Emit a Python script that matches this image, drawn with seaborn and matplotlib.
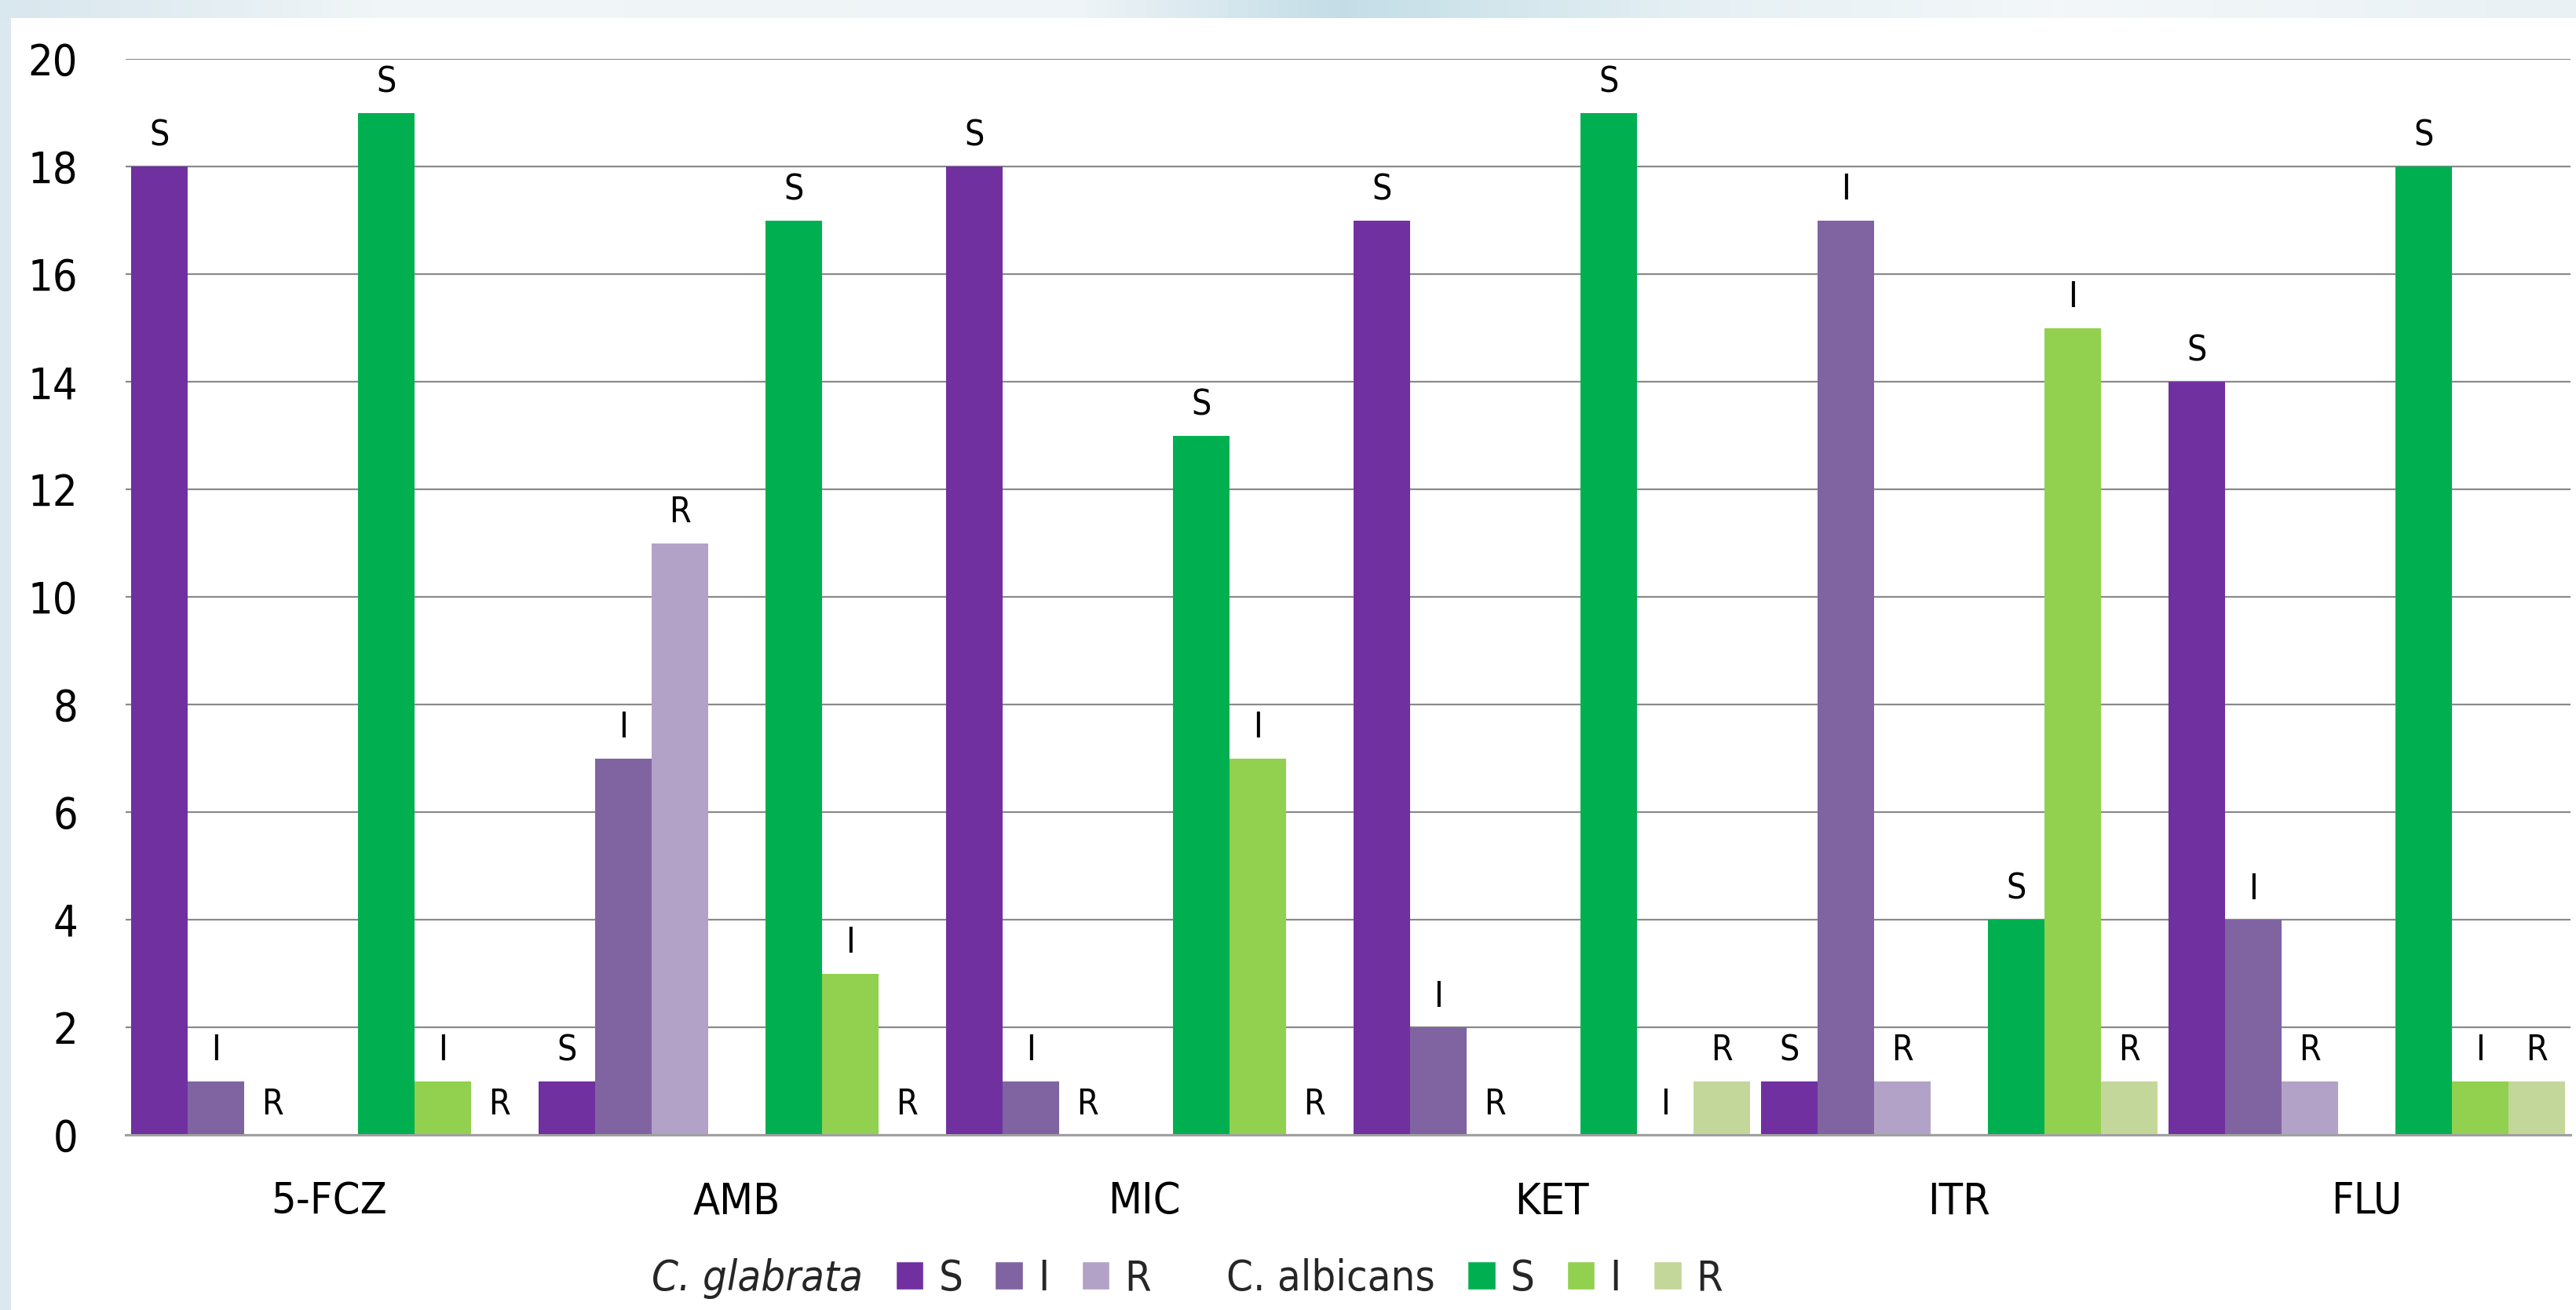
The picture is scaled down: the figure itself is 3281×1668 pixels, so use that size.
import numpy as np
import pandas as pd
import matplotlib
matplotlib.use("Agg")
import matplotlib.pyplot as plt
from matplotlib.patches import Patch, Rectangle
from matplotlib.colors import LinearSegmentedColormap
import seaborn as sns

# ---------------- data ----------------
drugs = ["5-FCZ", "AMB", "MIC", "KET", "ITR", "FLU"]
glabrata_S = [18, 1, 18, 17, 1, 14]
glabrata_I = [1, 7, 1, 2, 17, 4]
glabrata_R = [0, 11, 0, 0, 1, 1]
albicans_S = [19, 17, 13, 19, 4, 18]
albicans_I = [1, 3, 7, 0, 15, 1]
albicans_R = [0, 0, 0, 1, 1, 1]
series_keys = ["gS", "gI", "gR", "gap", "aS", "aI", "aR"]
series_letters = ["S", "I", "R", "", "S", "I", "R"]
y_ticks = [0, 2, 4, 6, 8, 10, 12, 14, 16, 18, 20]

colors = {"gS": "#7030A0", "gI": "#8064A2", "gR": "#B3A2C7", "gap": "#FFFFFF",
          "aS": "#00B050", "aI": "#92D050", "aR": "#C4D79B"}

values = {"gS": glabrata_S, "gI": glabrata_I, "gR": glabrata_R,
          "gap": [0] * len(drugs),
          "aS": albicans_S, "aI": albicans_I, "aR": albicans_R}
rows = []
for k in series_keys:
    for d, v in zip(drugs, values[k]):
        rows.append({"drug": d, "series": k, "value": v})
df = pd.DataFrame(rows)

# ---------------- style ----------------
sns.set_theme(style="white")
plt.rcParams["font.family"] = ["DejaVu Sans"]
plt.rcParams["font.stretch"] = "condensed"

W, H = 3281, 1668
fig = plt.figure(figsize=(W / 100, H / 100), dpi=100)
fig.patch.set_facecolor("#dbe8ef")

# top decorative gradient strip
grad_ax = fig.add_axes([0, 1 - 23 / H, 1, 23 / H], zorder=-2)
cmap = LinearSegmentedColormap.from_list(
    "bg", [(0.0, "#d9e7ee"), (0.08, "#e4eef3"), (0.15, "#f1f6f8"), (0.42, "#eef4f7"),
           (0.52, "#c3dde7"), (0.58, "#d2e6ec"), (0.66, "#e6f0f4"), (0.8, "#f3f7f9"),
           (1.0, "#e9f1f5")])
grad_ax.imshow(np.linspace(0, 1, 512)[None, :], aspect="auto", cmap=cmap,
               extent=[0, 1, 0, 1])
grad_ax.set_axis_off()

# white panel
fig.add_artist(Rectangle((14 / W, 0), 1, 1 - 23 / H, transform=fig.transFigure,
                         facecolor="white", edgecolor="none", zorder=-1))

ax = fig.add_axes([160 / W, 1 - 1445 / H, (3274 - 160) / W, (1445 - 75) / H])
ax.set_facecolor("none")

slot = 0.139
sns.barplot(data=df, x="drug", y="value", hue="series", hue_order=series_keys,
            order=drugs, palette=colors, width=slot * 7, dodge=True,
            saturation=1, errorbar=None, legend=False, linewidth=0, ax=ax)

# letters above each bar
for key, letter, cont in zip(series_keys, series_letters, ax.containers):
    if not letter:
        continue
    for bar in cont:
        x = bar.get_x() + bar.get_width() / 2
        y = bar.get_height()
        ax.annotate(letter, (x, y), xytext=(0, 19), textcoords="offset points",
                    ha="center", va="baseline", fontsize=32, color="black")

ax.set_xlim(-0.5, 5.5)
ax.set_ylim(0, 20)
ax.set_yticks(y_ticks)
ax.set_yticklabels([str(t) for t in y_ticks])
ax.set_xlabel("")
ax.set_ylabel("")
ax.tick_params(axis="y", length=0, pad=44, labelsize=40, colors="black")
ax.tick_params(axis="x", length=0, pad=42, labelsize=40, colors="black")
ax.yaxis.grid(True, color="#8a8a8a", linewidth=1.6)
ax.xaxis.grid(False)
ax.set_axisbelow(True)
for s in ["top", "right", "left"]:
    ax.spines[s].set_visible(False)
ax.spines["bottom"].set_color("#a0a0a0")
ax.spines["bottom"].set_linewidth(2.2)

# legend
blank = Patch(facecolor="none", edgecolor="none")
handles = [blank,
           Patch(facecolor=colors["gS"]), Patch(facecolor=colors["gI"]), Patch(facecolor=colors["gR"]),
           blank,
           Patch(facecolor=colors["aS"]), Patch(facecolor=colors["aI"]), Patch(facecolor=colors["aR"])]
labels = ["C. glabrata", "S", "I", "R", "C. albicans", "S", "I", "R"]
leg = fig.legend(handles, labels, ncol=8, loc="center",
                 bbox_to_anchor=(1485 / W, 1 - 1628 / H), bbox_transform=fig.transFigure,
                 frameon=False, fontsize=39, handlelength=0.66, handleheight=0.66,
                 handletextpad=0.35, columnspacing=0.76, borderpad=0, borderaxespad=0)
leg.get_texts()[0].set_fontstyle("italic")

fig.savefig("out.png", dpi=100, facecolor=fig.get_facecolor())
